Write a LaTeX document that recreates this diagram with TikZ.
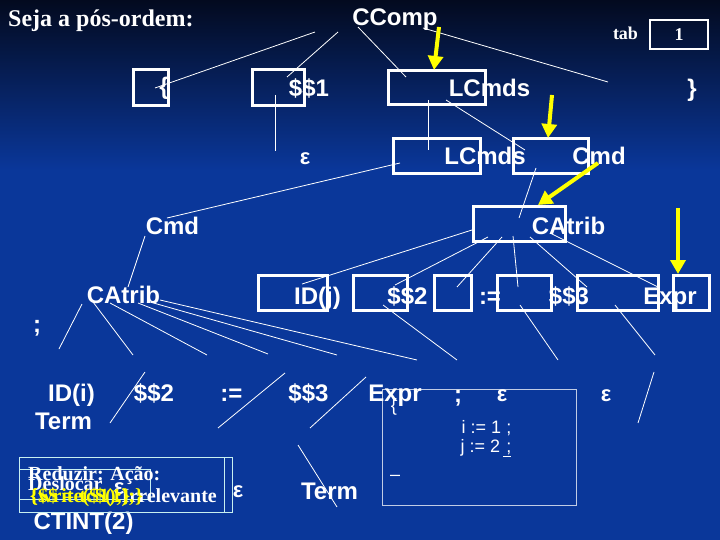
\documentclass[tikz,border=0pt]{standalone}
\usepackage{fontspec}
\setmainfont{Liberation Serif}
\setsansfont{Liberation Sans}
\usetikzlibrary{arrows.meta}
\definecolor{bgTop}{HTML}{030A1F}
\definecolor{bgMain}{HTML}{0A379A}
\definecolor{hintYellow}{HTML}{FFFF00}
\definecolor{actCyan}{HTML}{C8F0F0}
\tikzset{
  sym/.style={text=white, inner sep=0, anchor=base, font=\sffamily\bfseries\fontsize{24}{28}\selectfont},
  small/.style={text=white, inner sep=0, anchor=base, font=\sffamily\fontsize{18}{22}\selectfont},
  title/.style={text=white, inner sep=0, anchor=base west, font=\bfseries\fontsize{24}{28}\selectfont},
  eps/.style={text=white, inner sep=0, font=\sffamily\bfseries\fontsize{22}{26}\selectfont},
  slot/.style={draw=white, line width=3pt, inner sep=0},
  act/.style={inner sep=0, anchor=base west, font=\bfseries\fontsize{20}{24}\selectfont},
  edge/.style={white, line width=0.8pt},
  hint/.style={hintYellow, line width=4pt, -{Triangle[length=14pt,width=15pt]}}
}
\begin{document}
\begin{tikzpicture}[x=1pt,y=-1pt]
  \useasboundingbox (0,0) rectangle (720,540);
  \fill[bgMain] (0,0) rectangle (720,540);
  \shade[top color=bgTop, bottom color=bgMain] (0,0) rectangle (720,170);

  % tree lines
  \foreach \i/\xa/\ya/\xb/\yb in {1/315/32/155/88, 2/338/32/287/77, 3/275/95/275/151,
      4/358/27/406/77, 5/423/28/608/82, 6/428/100/428/150, 7/446/100/525/150,
      8/400/163/167/218, 9/536/168/519/218, 10/145/236/128/287,
      11/82/304/59/349, 12/93/302/133/355, 13/110/303/207/355, 14/138/303/268/354,
      15/150/302/337/355, 16/160/300/417/360,
      17/472/230/302/284, 18/488/237/395/285, 19/502/237/457/287, 20/513/236/518/287,
      21/530/237/587/287, 22/550/233/658/287,
      23/145/372/110/423, 24/285/373/218/428, 25/366/377/310/428,
      26/383/305/457/360, 27/520/305/558/360, 28/615/305/655/355,
      29/654/372/638/423, 30/298/445/337/507}{
    \coordinate (e\i s) at (\xa,\ya);
    \coordinate (e\i t) at (\xb,\yb);
    \draw[edge] (e\i s) -- (e\i t);
  }

  % heading
  \node[title] (head) at (8,27) {Seja a pós-ordem:};
  \node[sym] (ccomp) at (395,26) {CComp};
  \node[text=white, inner sep=0, anchor=base, font=\bfseries\fontsize{18}{22}\selectfont] (tab) at (625.5,40) {tab};
  \node[draw=white, line width=1.5pt, minimum width=58pt, minimum height=29pt, inner sep=0, text=white, font=\bfseries\fontsize{18}{22}\selectfont] (tabval) at (679,34.5) {1};

  % row 1
  \node[sym, anchor=center] (lbrace) at (164,88) {\{};
  \node[slot, minimum width=35pt, minimum height=36pt] (slotA) at (150.5,88) {};
  \node[slot, minimum width=52pt, minimum height=36pt] (slotB) at (278,88) {};
  \node[sym] (actA) at (309,97) {\$\$1};
  \node[slot, minimum width=97pt, minimum height=34pt] (slotC) at (436.5,88) {};
  \node[sym] (lcmdsA) at (489.5,97) {LCmds};
  \node[sym, anchor=center] (rbrace) at (692,90) {\}};

  % row 2
  \node[eps] (epsA) at (305,159) {ε};
  \node[slot, minimum width=87pt, minimum height=35pt] (slotD) at (436.5,156.5) {};
  \node[sym] (lcmdsB) at (485,165) {LCmds};
  \node[slot, minimum width=75pt, minimum height=35pt] (slotE) at (550.5,156.5) {};
  \node[sym] (cmdA) at (599,165) {Cmd};

  % row 3
  \node[sym] (cmdB) at (172.5,235) {Cmd};
  \node[slot, minimum width=92pt, minimum height=34pt] (slotF) at (519,224) {};
  \node[sym] (catribA) at (568.5,235) {CAtrib};

  % row 4
  \node[sym] (catribB) at (123.5,303) {CAtrib};
  \node[slot, minimum width=69pt, minimum height=35pt] (slotG) at (292.5,292.5) {};
  \node[slot, minimum width=54pt, minimum height=35pt] (slotH) at (380,292.5) {};
  \node[slot, minimum width=37pt, minimum height=35pt] (slotI) at (452.5,292.5) {};
  \node[slot, minimum width=54pt, minimum height=35pt] (slotJ) at (524,292.5) {};
  \node[slot, minimum width=81pt, minimum height=35pt] (slotK) at (617.5,292.5) {};
  \node[slot, minimum width=36pt, minimum height=35pt] (slotL) at (691,292.5) {};
  \node[sym] (idj) at (317.5,304) {ID(j)};
  \node[sym] (actB) at (407.5,304) {\$\$2};
  \node[sym] (assignA) at (490,304) {:=};
  \node[sym] (actC) at (569,304) {\$\$3};
  \node[sym] (exprA) at (670,304) {Expr};

  % row 5
  \node[sym, anchor=center] (semiA) at (37,328) {;};
  \node[sym] (idi) at (71.5,401) {ID(i)};
  \node[sym] (termA) at (63.5,429) {Term};
  \node[sym] (actD) at (154,401) {\$\$2};
  \node[sym] (assignB) at (231.5,401) {:=};
  \node[sym] (actE) at (308.5,401) {\$\$3};
  \node[sym] (exprB) at (395,401) {Expr};
  \node[sym] (semiB) at (458,402) {;};
  \node[eps] (epsB) at (502,396) {ε};
  \node[eps] (epsC) at (606,396) {ε};

  % source window
  \node[draw=white, draw opacity=0.75, line width=0.6pt, minimum width=194pt, minimum height=116pt, inner sep=0] (codebox) at (479,447) {};
  \node[small, anchor=center] (codeopen) at (394,407) {\{};
  \node[small] (lineA) at (486.5,433) {i := 1 ;};
  \node[small] (lineB) at (486,452) {j := 2\,\underline{\,;}};
  \node[small, anchor=center] (codeend) at (395,478) {–};

  % bottom
  \node[sym] (termB) at (329.5,499) {Term};
  \node[eps] (epsD) at (238,492) {ε};
  \node[sym] (ctint) at (83.5,529) {CTINT(2)};

  % action table
  \node[draw=actCyan, line width=0.8pt, minimum width=213pt, minimum height=55pt, inner sep=0] (actbox) at (125.5,484.5) {};
  \node[draw=actCyan, line width=0.8pt, minimum width=131pt, minimum height=30pt, inner sep=0] (actin) at (84.5,484) {};
  \draw[actCyan, line width=0.8pt] (224,457) -- (224,512);
  \node[eps] (epsE) at (119,489) {ε};
  \node[act, text=white] (reduce) at (28,480) {Reduzir: Ação:};
  \node[act, text=white] (shift) at (28,490) {Deslocar};
  \node[act, text=white, anchor=base east] (irrel) at (217,502) {Irrelevante};
  \node[act, text=hintYellow] (semA) at (30,502) {\{\$\$ = tc\$(1);\}};
  \node[act, text=hintYellow] (semB) at (30,502) {\{write(\$1);\}};

  % yellow pointers
  \foreach \i/\xa/\ya/\xb/\yb in {1/439/27/434/70, 2/552/95/548/138,
      3/598/163/538/205, 4/678/208/678/274}{
    \coordinate (h\i s) at (\xa,\ya);
    \coordinate (h\i t) at (\xb,\yb);
    \draw[hint] (h\i s) -- (h\i t);
  }
\end{tikzpicture}
\end{document}
